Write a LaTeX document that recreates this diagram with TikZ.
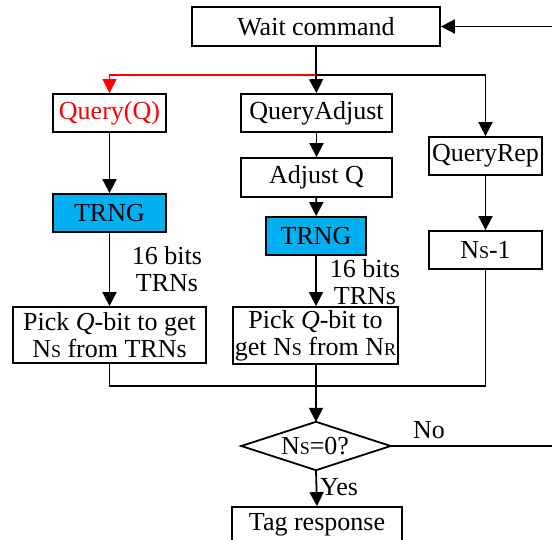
\documentclass[tikz,border=0pt]{standalone}
\usepackage{fontspec}
\setmainfont{Liberation Serif}
\usetikzlibrary{arrows.meta}
\definecolor{trngblue}{RGB}{0,176,240}
\newcommand\nsub[1]{N{\fontsize{18}{18}\selectfont #1}}
\begin{document}
\begin{tikzpicture}[x=1pt,y=-1pt,
  every node/.style={font=\fontsize{26}{27}\selectfont, inner sep=0pt},
  box/.style={draw, line width=1.8pt, minimum width=#1},
  box/.default=113pt,
  trng/.style={box=#1, fill=trngblue},
  flow/.style={line width=1.8pt, -{Triangle[length=14pt,width=14pt]}},
  wire/.style={line width=1.8pt},
  lbl/.style={align=center}]
\useasboundingbox (0,0) rectangle (552,540);

% command boxes
\node[box=248pt, minimum height=39pt] (wait) at (316,26.5) {Wait command};
\node[box=113pt, minimum height=38pt, text=red] (query) at (109.5,113) {Query(Q)};
\node[box=151pt, minimum height=38pt] (qadj) at (316.5,113) {QueryAdjust};
\node[box=113pt, minimum height=38pt] (qrep) at (485.5,156) {QueryRep};
\node[box=151pt, minimum height=39pt] (adjq) at (316.5,177.5) {Adjust Q};

% random number generators
\node[trng=113pt, minimum height=38pt] (trng1) at (109.5,213) {TRNG};
\node[trng=100pt, minimum height=38pt] (trng2) at (316,236) {TRNG};
\node[box=113pt, minimum height=38pt] (ns1) at (485.5,250) {\nsub{S}-1};

% slot counter selection
\node[box=193pt, minimum height=56pt, align=center] (pick1) at (109.5,335)
  {Pick \textit{Q}-bit to get\\\nsub{S} from TRNs};
\node[box=165pt, minimum height=57pt, align=center] (pick2) at (315.5,335.5)
  {Pick \textit{Q}-bit to\\get \nsub{S} from \nsub{R}};

% decision
\node[minimum width=149pt, minimum height=48pt] (dec) at (316,446) {};
\draw[wire] (dec.west) -- (dec.north) -- (dec.east) -- (dec.south) -- cycle;
\node (dectext) at (315,446) {\nsub{S}=0?};

\node[box=170pt, minimum height=36pt] (tag) at (317,525) {Tag response};

% junctions
\coordinate (split) at (316,75);
\coordinate (merge) at (316,386);
\coordinate (loopdown) at (570,446);
\coordinate (loopup) at (570,26.5);

% branches from the command wait
\draw[wire] (wait.south) -- (split);
\draw[flow] (split) -- (qadj.north);
\draw[flow, red, line width=1.4pt] (split) -| (query.north);
\draw[flow] (split) -| (qrep.north);

% Query path
\draw[flow] (query) -- (trng1);
\draw[flow] (trng1) -- (pick1);
\node[lbl] (bits1) at (167,269) {16 bits\\TRNs};

% QueryAdjust path
\draw[flow] (qadj) -- (adjq);
\draw[flow] (adjq) -- (trng2);
\draw[flow] (trng2) -- (pick2.north -| trng2);
\node[lbl] (bits2) at (365,282.5) {16 bits\\TRNs};

% QueryRep path
\draw[flow] (qrep) -- (ns1);

% merge into the test
\draw[wire] (pick1.south) |- (merge);
\draw[wire] (ns1.south) |- (merge);
\draw[wire] (pick2.south -| merge) -- (merge);
\draw[flow] (merge) -- (dec.north);

% outcomes
\draw[flow] (dec.south) -- (tag.north);
\node (yes) at (339,487) {Yes};
\draw[flow] (dec.east) -- (loopdown) -- (loopup) -- (wait.east);
\node (no) at (429,430) {No};
\end{tikzpicture}
\end{document}
